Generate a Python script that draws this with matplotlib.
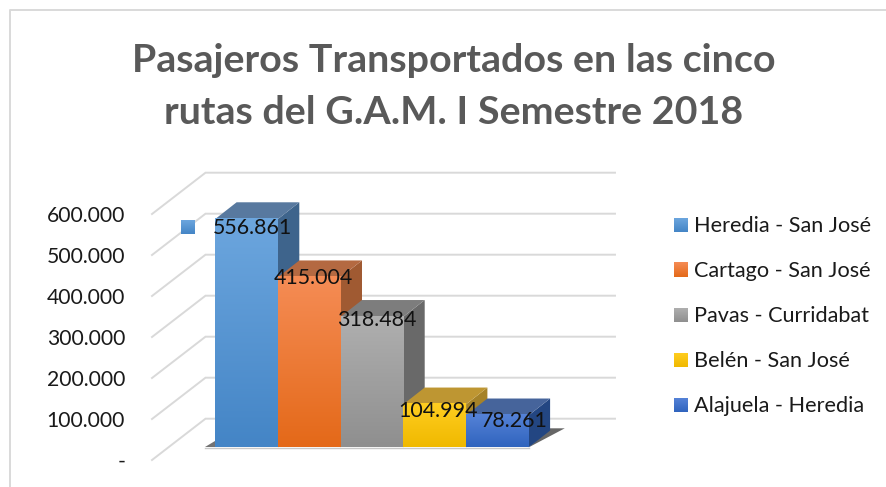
import numpy as np
import matplotlib
matplotlib.use("Agg")
import matplotlib.pyplot as plt
from matplotlib.patches import Polygon
from matplotlib.lines import Line2D

plt.rcParams['font.family'] = ['Lato', 'DejaVu Sans']

# ---- data ----
title = "Pasajeros Transportados en las cinco\nrutas del G.A.M. I Semestre 2018"
routes = ["Heredia - San José", "Cartago - San José", "Pavas - Curridabat",
          "Belén - San José", "Alajuela - Heredia"]
passengers = [556861, 415004, 318484, 104994, 78261]
bar_labels = ["556.861", "415.004", "318.484", "104.994", "78.261"]
y_ticks = [0, 100000, 200000, 300000, 400000, 500000, 600000]
y_tick_labels = ["-", "100.000", "200.000", "300.000", "400.000", "500.000", "600.000"]

# ---- styles ----
grad_top = ["#6CA6DE", "#F58C55", "#AFAFAF", "#FFCD20", "#5582D7"]
grad_bot = ["#4485C6", "#E46919", "#8F8F8F", "#F0B900", "#3064BE"]
top_face = ["#58799F", "#B46941", "#7D7D7D", "#BE9632", "#46649B"]
side_face = ["#3E648C", "#A05A32", "#696969", "#A58228", "#234682"]
label_off = [(5.8, -8.7), (4.2, -1), (4.4, -3.5), (3.5, -7), (17, -6)]

W, H = 886, 487
fig = plt.figure(figsize=(W / 100, H / 100), dpi=100, facecolor="white")
ax = fig.add_axes([0, 0, 1, 1])
ax.axis("off")

PX_X = 62.7        # px per category
PX_Y = 0.00041     # px per passenger
X0, Y0 = 246.65, 447.3   # px of first bar centre / baseline
xlim = (-X0 / PX_X, (W - X0) / PX_X)
ylim = ((Y0 - H) / PX_Y, Y0 / PX_Y)


def dx(px):
    return px / PX_X


def dy(px):
    return px / PX_Y


def to_data(px, py):
    return (px - X0) / PX_X, (Y0 - py) / PX_Y


def gradient(x0, x1, y0, y1, c_top, c_bot, z):
    a = np.array(matplotlib.colors.to_rgb(c_top))
    b = np.array(matplotlib.colors.to_rgb(c_bot))
    t = np.linspace(0, 1, 64)[:, None]
    img = (a * (1 - t) + b * t)[:, None, :]
    ax.imshow(img, extent=(x0, x1, y0, y1), origin="upper", aspect="auto",
              zorder=z, interpolation="bilinear")


GRID = "#D9D9D9"
wall_fx, wall_fy = dx(-16.5), dy(-12.7)
wall_bx, wall_by = dx(37), dy(28.6)
x_right_back = to_data(615, 0)[0]
wall_x_back = to_data(205.5, 0)[0]
wall_x_front = to_data(152, 0)[0]

for v in y_ticks:
    ax.plot([wall_x_front, wall_x_back, x_right_back],
            [v + wall_fy, v + wall_by, v + wall_by],
            color=GRID, lw=1.4, zorder=1, solid_joinstyle="miter")

# shadows and floor line
n = len(passengers)
ax.add_patch(Polygon([(n - 0.5, 0), (n - 0.5 + dx(36), dy(19)), (n - 0.5 + dx(21), dy(19))],
                     closed=True, fc="#404040", ec="none", alpha=0.8, zorder=2))
ax.add_patch(Polygon([(-0.5 - dx(10), 0), (-0.5, 0), (-0.5, dy(6))],
                     closed=True, fc="#505050", ec="none", alpha=0.8, zorder=2))
ax.plot([-0.5 - dx(10), n - 0.5], [dy(-0.8), dy(-0.8)], color="#C8C8C8", lw=1, zorder=2)

# bars
DX, DY = dx(21.3), dy(16.7)
for i, v in enumerate(passengers):
    z = 3 + i
    l, r = i - 0.5, i + 0.5
    ax.add_patch(Polygon([(r, 0), (r + DX, DY), (r + DX, v + DY), (r, v)],
                         closed=True, fc=side_face[i], ec="none", zorder=z))
    ax.add_patch(Polygon([(l, v), (r, v), (r + DX, v + DY), (l + DX, v + DY)],
                         closed=True, fc=top_face[i], ec="none", zorder=z))
    gradient(l, r, 0, v, grad_top[i], grad_bot[i], z + 0.5)

# data labels
for i, (v, s) in enumerate(zip(passengers, bar_labels)):
    ox, oy = label_off[i]
    ax.annotate(s, (i, v), xytext=(ox * 0.72, oy * 0.72), textcoords="offset points",
                ha="center", va="center", fontsize=15.4, color="#111111", zorder=20)

# small legend key beside first label
kx0, ky1 = to_data(181, 220)
kx1, ky0 = to_data(195, 234)
gradient(kx0, kx1, ky0, ky1, grad_top[0], grad_bot[0], 15)

# y tick labels
for v, s in zip(y_ticks, y_tick_labels):
    lx, _ = to_data(125, 0)
    ax.text(lx, v + wall_fy - dy(2), s, ha="right", va="center", fontsize=15.2,
            color="#1A1A1A", zorder=10)

# legend
leg_y = [225, 270, 315, 360, 405]
for i, (name, py) in enumerate(zip(routes, leg_y)):
    x0, y1 = to_data(674, py - 7)
    x1, y0 = to_data(688, py + 7)
    gradient(x0, x1, y0, y1, grad_top[i], grad_bot[i], 10)
    tx, ty = to_data(694, py + 1)
    ax.text(tx, ty, name, ha="left", va="center", fontsize=15.55, color="#1A1A1A", zorder=10)

ax.set_xlim(*xlim)
ax.set_ylim(*ylim)

# title
fig.text(454 / W, 1 - 86.5 / H, title, ha="center", va="center", fontsize=28.4,
         fontweight="bold", color="#595959", linespacing=1.59)

# chart frame (left and top edges)
fig.add_artist(Line2D([9.5 / W, 9.5 / W, 1], [0, 1 - 9.5 / H, 1 - 9.5 / H],
                      color=GRID, lw=1.4))

fig.savefig("out.png", dpi=100, facecolor="white")
